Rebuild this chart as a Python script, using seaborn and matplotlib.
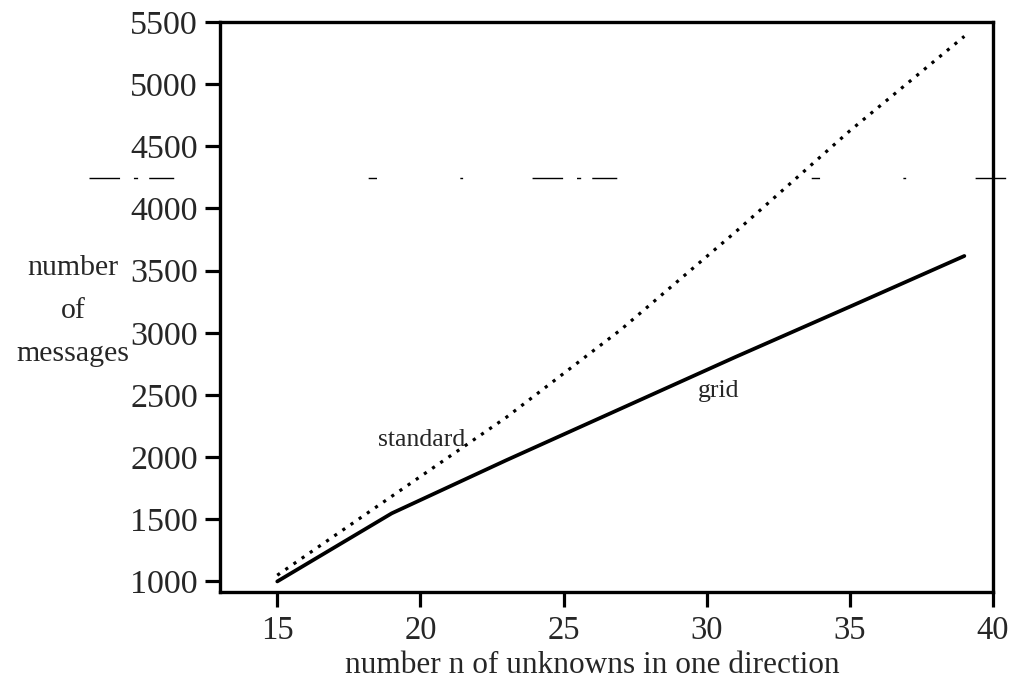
import matplotlib
matplotlib.use("Agg")
import matplotlib.pyplot as plt
import seaborn as sns
import pandas as pd

# Data
n_values = [15, 19, 23, 27, 31, 35, 39]
standard_msgs = [1050, 1685, 2320, 3025, 3810, 4625, 5385]
grid_n = [15, 19, 23, 27, 31, 35, 39]
grid_msgs = [1000, 1548, 1975, 2390, 2805, 3210, 3618]
x_ticks = [15, 20, 25, 30, 35, 40]
y_ticks = [1000, 1500, 2000, 2500, 3000, 3500, 4000, 4500, 5000, 5500]

sns.set_style("ticks")
plt.rcParams["font.family"] = ["Liberation Serif", "DejaVu Serif"]

fig = plt.figure(figsize=(10.12, 6.84), dpi=100)
ax = fig.add_axes([0.2174, 0.1345, 0.9812 - 0.2174, 0.9678 - 0.1345])

df_std = pd.DataFrame({"n": n_values, "m": standard_msgs})
df_grid = pd.DataFrame({"n": grid_n, "m": grid_msgs})

sns.lineplot(data=df_std, x="n", y="m", ax=ax, color="black", lw=2.3,
             linestyle=(0, (1, 2.1)), dash_capstyle="butt")
sns.lineplot(data=df_grid, x="n", y="m", ax=ax, color="black", lw=2.7)

ax.set_xlim(13, 40)
ax.set_ylim(915, 5500)
ax.set_xticks(x_ticks)
ax.set_yticks(y_ticks)
ax.set_xticklabels([str(t) for t in x_ticks], fontsize=23.5)
ax.set_yticklabels([str(t) for t in y_ticks], fontsize=24.5)
ax.tick_params(axis="both", direction="out", length=11, width=2.3, color="black")
ax.tick_params(axis="x", pad=6)
ax.tick_params(axis="y", pad=5)

for s in ax.spines.values():
    s.set_visible(True)
    s.set_linewidth(2.4)
    s.set_color("black")

ax.set_xlabel("number n of unknowns in one direction", fontsize=22.5)
ax.xaxis.set_label_coords(0.482, -0.103)
ax.set_ylabel("")

fig.text(0.072, 0.545, "number\nof\nmessages", ha="center", va="center",
         fontsize=21.5, linespacing=1.85)

ax.text(20.05, 2135, "standard", ha="center", va="center", fontsize=18.5)
ax.text(30.4, 2530, "grid", ha="center", va="center", fontsize=18.5)

# faint, sparse scan artifact line across the figure
ax.axhline(4245, xmin=-0.17, xmax=1.03, color="black", lw=1.0,
           linestyle=(0, (22, 10, 3, 8, 18, 140, 6, 60, 2, 50)), clip_on=False)

fig.savefig("out.png", dpi=100, facecolor="white")
